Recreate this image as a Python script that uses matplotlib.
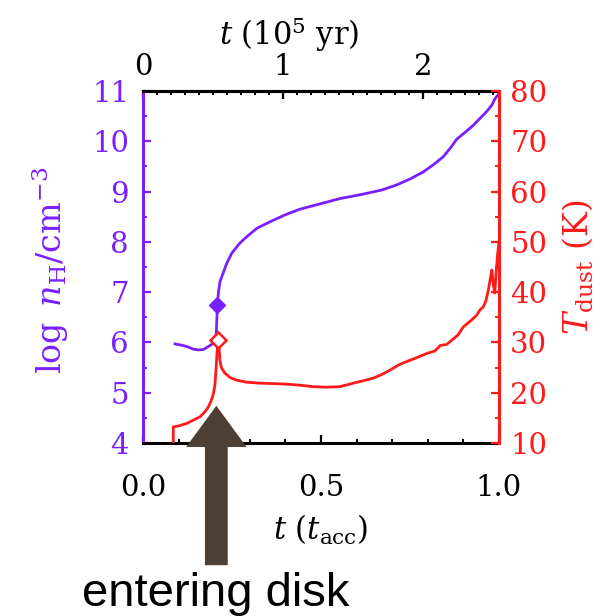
import matplotlib
matplotlib.use("Agg")
import matplotlib.pyplot as plt
from matplotlib.ticker import MultipleLocator, FormatStrFormatter, FixedLocator
from matplotlib.patches import FancyArrow

plt.rcParams['font.family'] = ['DejaVu Serif']
plt.rcParams['mathtext.fontset'] = 'dejavuserif'

# time in units of t_acc, log density of hydrogen
t_n = [0.090, 0.105, 0.123, 0.140, 0.155, 0.170, 0.184, 0.195, 0.202, 0.206,
       0.209, 0.212, 0.216, 0.221, 0.235, 0.249, 0.270, 0.291, 0.320, 0.357,
       0.400, 0.441, 0.500, 0.553, 0.619, 0.670, 0.712, 0.750, 0.787, 0.815,
       0.843, 0.865, 0.881, 0.905, 0.928, 0.950, 0.965, 0.980, 0.989, 1.000]
log_n = [5.97, 5.95, 5.92, 5.87, 5.85, 5.86, 5.92, 5.97, 6.01, 6.20,
         6.74, 7.00, 7.20, 7.30, 7.57, 7.77, 7.96, 8.10, 8.27, 8.40,
         8.54, 8.65, 8.76, 8.86, 8.95, 9.03, 9.13, 9.25, 9.39, 9.53,
         9.69, 9.88, 10.04, 10.18, 10.32, 10.48, 10.59, 10.72, 10.85, 10.95]

# dust temperature (K)
t_T = [0.085, 0.085, 0.100, 0.123, 0.140, 0.160, 0.175, 0.184, 0.192, 0.198,
       0.202, 0.205, 0.208, 0.210, 0.212, 0.214, 0.216, 0.220, 0.230, 0.245,
       0.263, 0.290, 0.329, 0.370, 0.404, 0.440, 0.478, 0.515, 0.553, 0.591,
       0.620, 0.647, 0.670, 0.694, 0.720, 0.741, 0.770, 0.797, 0.820, 0.835,
       0.853, 0.870, 0.885, 0.900, 0.912, 0.925, 0.937, 0.947, 0.956, 0.963,
       0.970, 0.975, 0.980, 0.984, 0.988, 0.992, 0.996, 1.000]
T_dust = [10.0, 13.2, 13.4, 13.9, 14.5, 15.2, 16.3, 17.2, 18.5, 19.9,
          21.5, 24.5, 28.0, 29.5, 30.5, 28.5, 26.5, 25.0, 23.9, 23.0,
          22.5, 22.1, 21.9, 21.8, 21.7, 21.5, 21.2, 21.1, 21.2, 21.9,
          22.4, 22.9, 23.6, 24.5, 25.6, 26.2, 27.0, 27.8, 28.3, 29.4,
          29.6, 30.6, 31.5, 33.1, 33.8, 34.6, 35.4, 36.5, 37.1, 38.2,
          40.4, 42.4, 44.4, 41.5, 39.8, 44.0, 47.5, 50.0]

# moment of entering the disk
t_enter = 0.206
enter_n = 6.74
enter_T = 30.5

t_acc_in_1e5yr = 2.54

purple = '#7a1fff'
red = '#ff1a1a'
brown = '#4d3f33'

fig = plt.figure(figsize=(6.05, 6.16), dpi=100)
W, H = 605, 616
ax = fig.add_axes([143 / W, (H - 443) / H, (499 - 143) / W, (443 - 91) / H])
axr = ax.twinx()

ax.plot(t_n, log_n, color=purple, lw=2.0, zorder=3)
ax.plot([t_enter + 0.003], [enter_n], marker='D', ms=8, color=purple, zorder=4)
axr.plot(t_T, T_dust, color=red, lw=2.0)
axr.plot([t_enter + 0.006], [enter_T], marker='D', ms=8, mfc='white',
         mec=red, mew=1.8)

ax.set_xlim(0, 1)
ax.set_ylim(4, 11)
axr.set_ylim(10, 80)

# spines
for s in ['top', 'bottom']:
    ax.spines[s].set_color('black')
    ax.spines[s].set_linewidth(2.2)
ax.spines['left'].set_color(purple)
ax.spines['left'].set_linewidth(2.2)
ax.spines['right'].set_visible(False)
for s in ['left', 'top', 'bottom']:
    axr.spines[s].set_visible(False)
axr.spines['right'].set_color(red)
axr.spines['right'].set_linewidth(2.2)

tick_size = 21

# bottom axis
ax.xaxis.set_major_locator(FixedLocator([0.0, 0.5, 1.0]))
ax.xaxis.set_minor_locator(MultipleLocator(0.1))
ax.xaxis.set_major_formatter(FormatStrFormatter('%.1f'))
ax.tick_params(axis='x', which='major', direction='in', length=6, width=1.6,
               labelsize=tick_size, pad=22, colors='black')
ax.tick_params(axis='x', which='minor', direction='in', length=3, width=1.4)

# left axis
ax.yaxis.set_major_locator(MultipleLocator(1))
ax.yaxis.set_minor_locator(MultipleLocator(0.5))
ax.tick_params(axis='y', which='major', direction='in', length=6, width=1.6,
               labelsize=tick_size, pad=10, colors=purple)
ax.tick_params(axis='y', which='minor', direction='in', length=3, width=1.4,
               colors=purple)

# right axis
axr.yaxis.set_major_locator(MultipleLocator(10))
axr.yaxis.set_minor_locator(MultipleLocator(5))
axr.tick_params(axis='y', which='major', direction='in', length=6, width=1.6,
                labelsize=tick_size, pad=8, colors=red)
axr.tick_params(axis='y', which='minor', direction='in', length=3, width=1.4,
                colors=red)

# top axis in units of 1e5 yr
axt = ax.secondary_xaxis('top', functions=(lambda x: x * t_acc_in_1e5yr,
                                           lambda x: x / t_acc_in_1e5yr))
axt.xaxis.set_major_locator(FixedLocator([0, 1, 2]))
axt.xaxis.set_minor_locator(MultipleLocator(0.1))
axt.tick_params(axis='x', which='major', direction='in', length=6, width=1.6,
                labelsize=tick_size, pad=7)
axt.tick_params(axis='x', which='minor', direction='in', length=3, width=1.4)
axt.spines['top'].set_linewidth(2.2)

# axis titles
fig.text(289 / W, (H - 35) / H, r'$t\ (10^5\ \mathrm{yr})$', ha='center',
         va='center', fontsize=22)
fig.text(321 / W, (H - 530) / H, r'$t\ (t_{\mathrm{acc}})$', ha='center',
         va='center', fontsize=22)
fig.text(50 / W, (H - 270) / H, r'$\log\ n_{\mathrm{H}}/\mathrm{cm}^{-3}$',
         rotation=90, ha='center', va='center', fontsize=24, color=purple)
fig.text(578 / W, (H - 267) / H, r'$T_{\mathrm{dust}}$ (K)', rotation=90,
         ha='center', va='center', fontsize=24, color=red)

# arrow marking the entry into the disk
arrow = FancyArrow(t_enter, 1.57, 0, 4.74 - 1.57, width=0.064,
                   head_width=0.17, head_length=0.82,
                   length_includes_head=True, color=brown, clip_on=False,
                   zorder=10, lw=0)
ax.add_patch(arrow)

fig.text(82 / W, (H - 606) / H, 'entering disk', family='Liberation Sans',
         fontsize=34, ha='left', va='baseline', color='black')

fig.savefig('out.png', dpi=100)
